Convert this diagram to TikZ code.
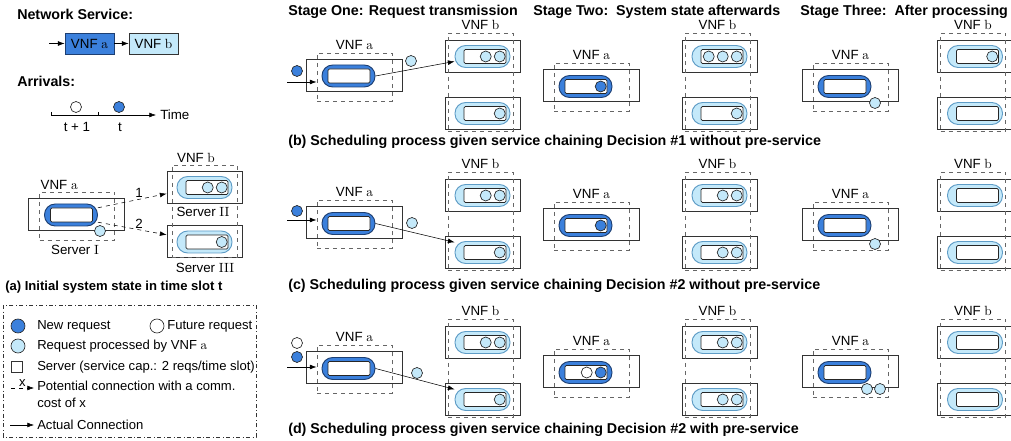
\documentclass[tikz,border=0pt]{standalone}
\usepackage{fontspec}
\setsansfont{Liberation Sans}
\renewcommand{\familydefault}{\sfdefault}
\usetikzlibrary{positioning,arrows.meta}
\definecolor{reqblue}{HTML}{3B80DC}
\definecolor{reqnavy}{HTML}{1D3F72}
\definecolor{donecyan}{HTML}{C4E9FA}
\definecolor{doneedge}{HTML}{5E9CC6}

\begin{document}
\begin{tikzpicture}[x=0.75pt,y=-0.75pt,>={Latex[length=5pt,width=3.6pt]},
  lbl/.style={font=\fontsize{10}{12}\selectfont,inner sep=1pt},
  hdr/.style={font=\fontsize{10.7}{13}\selectfont\bfseries,anchor=west,inner sep=0},
  legtext/.style={font=\fontsize{9.8}{12.75}\selectfont,anchor=west,inner sep=0,align=left},
  srv/.style={draw=black!80,line width=0.7pt,minimum width=72pt,minimum height=24pt,inner sep=0},
  srvb/.style={srv,minimum width=56.25pt},
  vnfa/.style={draw=black!60,dashed,line width=0.7pt,minimum width=56.25pt,minimum height=36pt,inner sep=0},
  vnfb/.style={vnfa,minimum width=48.75pt,minimum height=73.5pt},
  pilla/.style={draw=reqnavy,fill=reqblue,line width=0.7pt,rounded corners=8pt,minimum width=39.75pt,minimum height=16.5pt,inner sep=0},
  pillb/.style={pilla,draw=doneedge,fill=donecyan,minimum width=41.25pt},
  slot/.style={draw=black!85,fill=white,line width=0.6pt,rounded corners=1pt,minimum height=10.5pt,inner sep=0},
  req/.style={circle,draw=black!85,line width=0.5pt,fill=reqblue,minimum size=8.25pt,inner sep=0},
  done/.style={req,fill=donecyan},
  future/.style={req,fill=white}]

  \useasboundingbox (0,0) rectangle (1011,441);

  % network service and arrivals
  \node[hdr] (nshd) at (17,14) {Network Service:};
  \node[draw=reqnavy,fill=reqblue,line width=0.6pt,minimum width=36.75pt,minimum height=15.75pt,inner sep=0,lbl] (nsa) at (89.5,43.5) {VNF \textrm{a}};
  \node[draw=black!80,fill=donecyan,line width=0.6pt,minimum width=36.75pt,minimum height=15.75pt,inner sep=0,lbl] (nsb) at (153.5,43.5) {VNF \textrm{b}};
  \coordinate (nsin) at (49,43.5);
  \draw[->] (nsin) -- (nsa);
  \draw[->] (nsa) -- (nsb);

  \node[hdr] (arhd) at (17,81) {Arrivals:};
  \coordinate (t0) at (51,115);
  \coordinate (t1) at (156,115);
  \draw[->] (t0) -- (t1);
  \draw (51,112) -- (51,115);
  \draw (98,112) -- (98,115);
  \node[future] (arf) at (76,107) {};
  \node[req] (arn) at (119,107) {};
  \node[lbl] (tf) at (77,127) {t + 1};
  \node[lbl] (tn) at (120,127) {t};
  \node[lbl,right=2pt of t1] (tl) {Time};

  % (a) initial state
  \node[srv] (sI) at (76.5,214) {};
  \node[vnfa] (dI) at (77,216) {};
  \node[pilla] (pI) at (71,215) {};
  \node[slot,minimum width=31.5pt] (wI) at (71.5,215) {};
  \node[lbl,anchor=south west] (laI) at (dI.north west) {VNF \textrm{a}};
  \node[done] (oI) at (100,231) {};
  \node[lbl] (tI) at (75,250) {Server \textrm{I}};
  \node[srvb] (sII) at (204.5,187) {};
  \node[srvb] (sIII) at (204.5,241.5) {};
  \node[vnfb,minimum height=69pt] (dII) at (204.5,211) {};
  \node[pillb] (pII) at (204.5,187.5) {};
  \node[slot,minimum width=31.5pt] (wII) at (207,187.5) {};
  \node[pillb] (pIII) at (204.5,242) {};
  \node[slot,minimum width=31.5pt] (wIII) at (207,242) {};
  \node[lbl] (lbI) at (196,158) {VNF \textrm{b}};
  \node[done] (II1) at ([xshift=-5pt]wII.east) {};
  \node[done] (II2) at ([xshift=-15.5pt]wII.east) {};
  \node[done] (III1) at ([xshift=-5pt]wIII.east) {};
  \node[lbl] (tII) at (203,212) {Server \textrm{II}};
  \node[lbl] (tIII) at (205,268) {Server \textrm{III}};
  \draw[dashed,->] (pI.15) -- node[lbl,above,pos=0.6] {1} (sII.190);
  \draw[dashed,->] (pI.-15) -- node[lbl,above,pos=0.6] {2} (sIII.170);
  \node[hdr,font=\fontsize{9.8}{12}\selectfont\bfseries] (capa) at (5,287) {(a) Initial system state in time slot t};

  % legend
  \draw[dashdotted,black!80] (3,305) rectangle (256,437);
  \node[req,minimum size=10.5pt] (k1) at (18,326) {};
  \node[legtext] (k1t) at (37,326) {New request};
  \node[future,minimum size=10.5pt] (k2) at (157,326) {};
  \node[legtext] (k2t) at (167,326) {Future request};
  \node[done,minimum size=10.5pt] (k3) at (18,346) {};
  \node[legtext] (k3t) at (37,346) {Request processed by VNF \textrm{a}};
  \node[draw=black!80,line width=0.6pt,minimum size=8.25pt,inner sep=0] (k4) at (17,367) {};
  \node[legtext] (k4t) at (37,367) {Server (service cap.: 2 reqs/time slot)};
  \coordinate (k5a) at (11,388);
  \coordinate (k5b) at (34,388);
  \draw[dashed,->] (k5a) -- node[legtext,anchor=south,inner sep=1pt] {x} (k5b);
  \node[legtext] (k5t) at (37,394.5) {Potential connection with a comm.\\cost of x};
  \coordinate (k6a) at (10,425);
  \coordinate (k6b) at (34,425);
  \draw[->] (k6a) -- (k6b);
  \node[legtext] (k6t) at (37,425) {Actual Connection};

  % stage headers
  \node[hdr] (st1) at (288,12) {Stage One: Request transmission};
  \node[hdr] (st2) at (533,12) {Stage Two:\ \ System state afterwards};
  \node[hdr] (st3) at (800,12) {Stage Three:\ \ After processing};

  % servers of (b), (c), (d)
  \foreach \r/\dy/\ya in {b/0/75,c/139/222.5,d/286/367.5}{
    \foreach \s/\xa/\xb in {1/354/482.5,2/591/719.5,3/850/975}{
      \pgfmathsetmacro{\yy}{\s==1 ? \ya : 85.5+\dy}
      \node[srv] (sa\s\r) at (\xa,\yy) {};
      \node[vnfa] (da\s\r) at (\xa+0.5,\yy+2) {};
      \node[pilla] (pa\s\r) at (\xa-5.5,\yy+1) {};
      \node[slot,minimum width=31.5pt] (wa\s\r) at (\xa-5,\yy+1) {};
      \node[lbl] (la\s\r) [above=1pt of da\s\r] {VNF \textrm{a}};
      \node[srvb] (sbu\s\r) at (\xb,56+\dy) {};
      \node[srvb] (sbl\s\r) at (\xb,113+\dy) {};
      \node[vnfb] (db\s\r) at (\xb-2,82+\dy) {};
      \node[pillb] (pbu\s\r) at (\xb,56.5+\dy) {};
      \node[slot,minimum width=31.5pt] (wbu\s\r) at (\xb+2.5,56.5+\dy) {};
      \node[pillb] (pbl\s\r) at (\xb,113.5+\dy) {};
      \node[slot,minimum width=31.5pt] (wbl\s\r) at (\xb+2.5,113.5+\dy) {};
      \node[lbl] (lb\s\r) [above=1pt of db\s\r] {VNF \textrm{b}};
    }
    \node[done] (u1\r1) at ([xshift=-5pt]wbu1\r.east) {};
    \node[done] (u1\r2) at ([xshift=-15.5pt]wbu1\r.east) {};
    \node[done] (v1\r1) at ([xshift=-5pt]wbl1\r.east) {};
    \node[req] (a2\r1) at ([xshift=-5pt]wa2\r.east) {};
  }

  % (b)
  \node[req] (nb) at (297,71) {};
  \coordinate (inb) at (287,82);
  \draw[->] (inb) -- (inb -| da1b.west);
  \node[done] (ob) at (411,61) {};
  \draw[->] (pa1b.east) -- (pbu1b.190);
  \node[done] (u2b1) at ([xshift=-5pt]wbu2b.east) {};
  \node[done] (u2b2) at ([xshift=-15.5pt]wbu2b.east) {};
  \node[done] (u2b3) at ([xshift=-26pt]wbu2b.east) {};
  \node[done] (v2b1) at ([xshift=-5pt]wbl2b.east) {};
  \node[done] (u3b1) at ([xshift=-5pt]wbu3b.east) {};
  \node[done] (o3b) at (875,103) {};
  \node[hdr] (capb) at (288,142) {(b) Scheduling process given service chaining Decision \#1 without pre-service};

  % (c)
  \node[req] (nc) at (297,211) {};
  \coordinate (inc) at (287,220);
  \draw[->] (inc) -- (inc -| da1c.west);
  \node[done] (oc) at (412,223) {};
  \draw[->] (pa1c.east) -- (pbl1c.160);
  \node[done] (u2c1) at ([xshift=-5pt]wbu2c.east) {};
  \node[done] (u2c2) at ([xshift=-15.5pt]wbu2c.east) {};
  \node[done] (v2c1) at ([xshift=-5pt]wbl2c.east) {};
  \node[done] (v2c2) at ([xshift=-15.5pt]wbl2c.east) {};
  \node[done] (o3c) at (875,244) {};
  \node[hdr] (capc) at (288,286) {(c) Scheduling process given service chaining Decision \#2 without pre-service};

  % (d)
  \node[future] (fd) at (297,343) {};
  \node[req] (nd) at (297,357) {};
  \coordinate (ind) at (287,367);
  \draw[->] (ind) -- (ind -| da1d.west);
  \node[done] (od) at (417,373) {};
  \draw[->] (pa1d.east) -- (pbl1d.160);
  \node[future] (a2d2) at ([xshift=-15.5pt]wa2d.east) {};
  \node[done] (u2d1) at ([xshift=-5pt]wbu2d.east) {};
  \node[done] (u2d2) at ([xshift=-15.5pt]wbu2d.east) {};
  \node[done] (v2d1) at ([xshift=-5pt]wbl2d.east) {};
  \node[done] (v2d2) at ([xshift=-15.5pt]wbl2d.east) {};
  \node[done] (o3d1) at (867,389) {};
  \node[done] (o3d2) at (880,389) {};
  \node[hdr] (capd) at (288,430) {(d) Scheduling process given service chaining Decision \#2 with pre-service};
\end{tikzpicture}
\end{document}
